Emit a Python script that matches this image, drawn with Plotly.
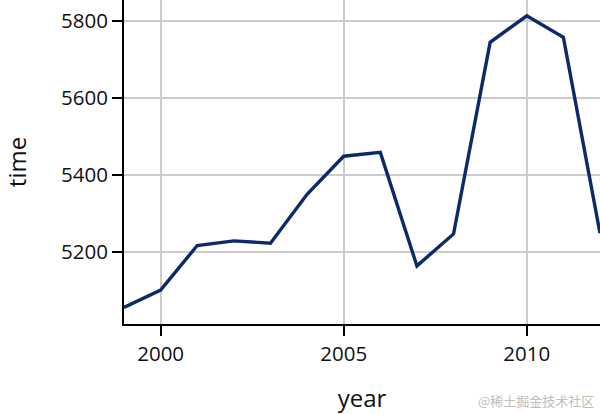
import plotly.graph_objects as go

years = [1999, 2000, 2001, 2002, 2003, 2004, 2005, 2006, 2007, 2008, 2009, 2010, 2011, 2012]
times = [5056, 5101, 5217, 5229, 5223, 5350, 5449, 5459, 5164, 5247, 5745, 5814, 5758, 5249]

fig = go.Figure(go.Scatter(x=years, y=times, mode="lines",
                           line=dict(color="#0c2a68", width=3.4)))

axis_common = dict(showline=True, linecolor="black", linewidth=2,
                   ticks="outside", ticklen=10, tickwidth=2, tickcolor="black",
                   showgrid=True, gridcolor="#cccccc", gridwidth=1.5,
                   zeroline=False, automargin=False,
                   tickfont=dict(size=20.5, color="#111"))

fig.update_layout(
    width=600, height=414,
    margin=dict(l=124, r=0, t=0, b=90, autoexpand=False),
    paper_bgcolor="white", plot_bgcolor="white",
    font=dict(family="Open Sans", color="#111"),
    showlegend=False,
    xaxis=dict(range=[1999, 2012], tickvals=[2000, 2005, 2010],
               title=dict(text="year", font=dict(size=24), standoff=27), **axis_common),
    yaxis=dict(range=[5013, 5855], tickvals=[5200, 5400, 5600, 5800],
               title=dict(text="time", font=dict(size=24), standoff=40), **axis_common),
    annotations=[dict(text="@稀土掘金技术社区", xref="paper", yref="paper",
                      x=0.992, y=-0.2346, xanchor="right", yanchor="middle",
                      showarrow=False, font=dict(size=13, color="#bdbdbd",
                                                 family="Noto Sans CJK SC"))],
)

fig.write_html("out.html", config={"displayModeBar": False},
               post_script="document.body.style.margin='0';document.body.style.padding='0';")
